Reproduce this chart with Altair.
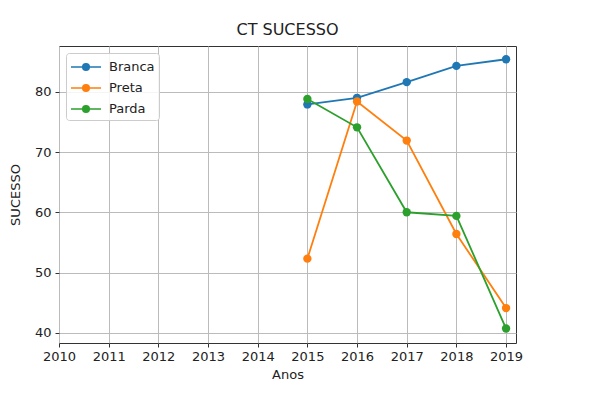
import altair as alt
import pandas as pd

years = [2015, 2016, 2017, 2018, 2019]
series = ["Branca", "Preta", "Parda"]
branca = [77.9, 79.0, 81.6, 84.3, 85.4]
preta = [52.3, 78.4, 71.9, 56.4, 44.1]
parda = [78.8, 74.1, 60.0, 59.4, 40.7]
colors = ["#1f77b4", "#ff7f0e", "#2ca02c"]
x_ticks = list(range(2010, 2020))
y_ticks = [40, 50, 60, 70, 80]

rows = []
for name, vals in zip(series, [branca, preta, parda]):
    for yr, v in zip(years, vals):
        rows.append({"Ano": yr, "Sucesso": v, "Grupo": name})
df = pd.DataFrame(rows)

FONT = "DejaVu Sans"
color_scale = alt.Scale(domain=series, range=colors)
x_enc = alt.X("Ano:Q",
              scale=alt.Scale(domain=[2010, 2019.2], nice=False, zero=False),
              axis=alt.Axis(values=x_ticks, format="d", title="Anos",
                            labelPadding=3, titlePadding=5,
                            labelFlush=False, labelOverlap=False))
y_enc = alt.Y("Sucesso:Q",
              scale=alt.Scale(domain=[38.3, 87.6], nice=False, zero=False),
              axis=alt.Axis(values=y_ticks, title="SUCESSO",
                            labelPadding=4, titlePadding=12,
                            labelFlush=False, labelOverlap=False))

sym = ("M-1.667,0L1.667,0"
       "M-0.06,0a0.06,0.06 0 1,0 0.12,0a0.06,0.06 0 1,0 -0.12,0"
       "M-0.2,0a0.2,0.2 0 1,0 0.4,0a0.2,0.2 0 1,0 -0.4,0"
       "M-0.36,0a0.36,0.36 0 1,0 0.72,0a0.36,0.36 0 1,0 -0.72,0")

legend = alt.Legend(title=None, orient="none", legendX=7, legendY=7,
                    symbolType=sym, symbolSize=324, symbolStrokeWidth=1.6,
                    symbolOffset=6, labelOffset=13, rowPadding=4,
                    padding=4, strokeColor="#cccccc",
                    fillColor="rgba(255,255,255,0.85)", cornerRadius=3,
                    labelFontSize=13, labelFont=FONT, labelColor="#222222")

layers = []
for name in series:
    base = alt.Chart(df).transform_filter(alt.datum.Grupo == name)
    line = base.mark_line(strokeWidth=1.8).encode(
        x=x_enc, y=y_enc,
        color=alt.Color("Grupo:N", scale=color_scale, legend=legend))
    pts = base.mark_circle(size=70, opacity=1).encode(
        x=x_enc, y=y_enc,
        color=alt.Color("Grupo:N", scale=color_scale, legend=None))
    layers += [line, pts]

chart = alt.layer(*layers).properties(
    width=457, height=297,
    title=alt.TitleParams("CT SUCESSO", fontSize=16, font=FONT,
                          fontWeight="normal", color="#222222", offset=8),
    padding={"left": 51, "top": 38, "right": 60, "bottom": 46},
    autosize=alt.AutoSizeParams(type="none"),
).configure_view(
    stroke="#333333", strokeWidth=1
).configure_axis(
    labelFont=FONT, titleFont=FONT, labelFontSize=13, titleFontSize=13,
    labelColor="#222222", titleColor="#222222", titleFontWeight="normal",
    tickColor="#333333", tickSize=4, domain=False,
    gridColor="#bbbbbb", gridWidth=1
)

chart.save("out.html", embed_options={"renderer": "svg", "actions": False})
